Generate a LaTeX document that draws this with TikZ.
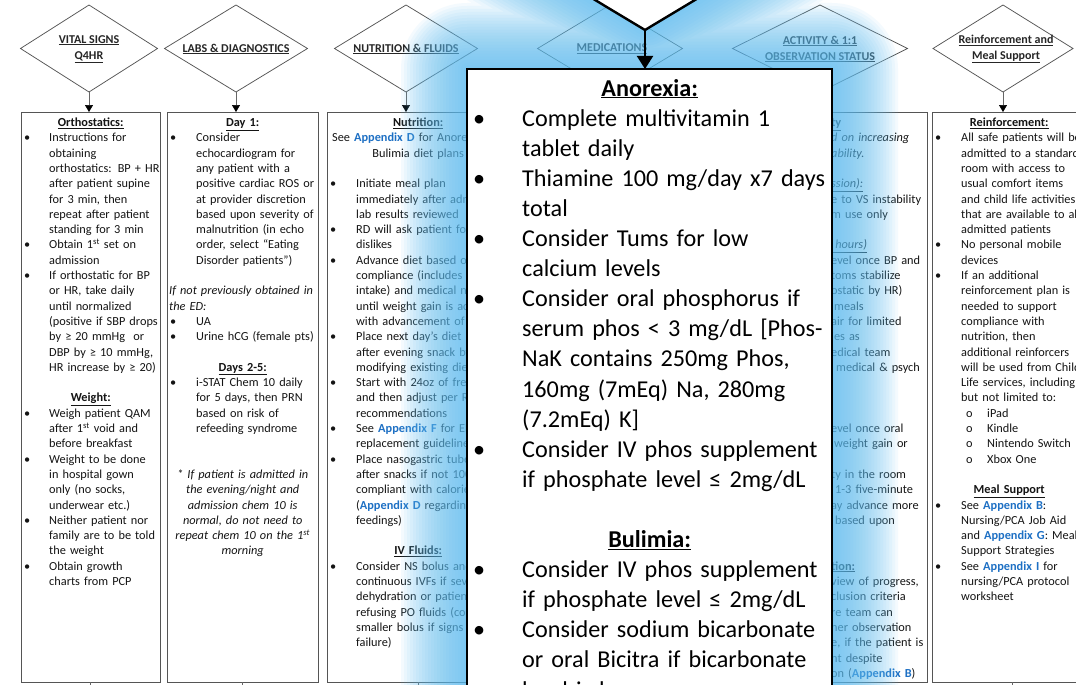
\documentclass[tikz,border=0pt]{standalone}
\usepackage{fontspec}
\setmainfont{Carlito}
\usetikzlibrary{shapes.geometric,arrows.meta}

\definecolor{linkblue}{RGB}{30,112,196}
\definecolor{glowc}{RGB}{95,190,242}
\definecolor{edgegray}{RGB}{85,85,85}

% column layout helpers
\newlength\colcw   % width used for centred lines
\newlength\colind  % hanging indent of bulleted items
\newlength\coloff  % offset of the bullet itself
\newcommand\colhd[1]{\noindent\makebox[\colcw][c]{\bfseries\underline{#1}}\par}
\newcommand\colctr[1]{\noindent\makebox[\colcw][c]{#1}\par}
\newcommand\colbul[1]{\noindent\hangindent=\colind\hangafter=1\makebox[\colind][l]{\hspace*{\coloff}\textbullet}#1\par}
\newcommand\colsub[1]{\noindent\hspace*{32pt}\makebox[21pt][l]{o}#1\par}
\newcommand\colgap{\noindent\mbox{}\par}
\newcommand\lnk[1]{\textbf{\textcolor{linkblue}{#1}}}

\tikzset{
  dia/.style={shape=diamond, draw=edgegray, line width=0.75pt, fill=white, inner sep=0pt, outer sep=0pt, minimum height=87pt},
  bigdia/.style={shape=diamond, draw=black, line width=2.4pt, fill=white, inner sep=0pt, outer sep=0pt},
  diatext/.style={font=\fontsize{12}{16}\selectfont\bfseries, align=center, text=black!85, inner sep=0pt},
  colbox/.style={draw=edgegray, line width=0.9pt, inner sep=0pt, outer sep=0pt, anchor=north west, minimum height=570pt},
  coltext/.style={anchor=base west, inner sep=0pt, text width=250pt, align=left, font=\fontsize{12.3}{15.3}\selectfont, text=black!92},
  feed/.style={draw=black!60, line width=0.7pt, -{Triangle[width=8pt,length=7pt,color=black]}},
  boxtail/.style={draw=black!60, line width=0.7pt},
  callbox/.style={draw=black, line width=2pt, fill=white, inner sep=0pt, outer sep=0pt, anchor=north west},
  calltext/.style={anchor=base west, inner sep=0pt, text width=400pt, align=left, font=\fontsize{24.2}{30.1}\selectfont, text=black},
  bigarrow/.style={draw=black, line width=2pt, -{Triangle[width=16pt,length=13pt,color=black]}},
}

\begin{document}
\begin{tikzpicture}[x=1pt,y=-1pt]
\useasboundingbox (0,0) rectangle (1076,685);
\clip (0,0) rectangle (1076,685);
\fill[white] (0,0) rectangle (1076,685);

% ---------- category diamonds ----------
\node[dia, minimum width=137pt] (d1) at (89,48.5) {};
\node[dia, minimum width=143pt] (d2) at (236,48.5) {};
\node[dia, minimum width=143pt] (d3) at (406,48.5) {};
\node[dia, minimum width=145pt] (d4) at (610,48.5) {};
\node[dia, minimum width=175pt] (d5) at (820,48.5) {};
\node[dia, minimum width=140pt] (d6) at (1003,48.5) {};

\node[diatext] (t1) at (89,49) {\underline{VITAL SIGNS}\\\underline{Q4HR}};
\node[diatext] (t2) at (236,49) {\underline{LABS \& DIAGNOSTICS}};
\node[diatext] (t3) at (406,49) {\underline{NUTRITION \& FLUIDS}};
\node[diatext] (t4) at (612,49) {\underline{MEDICATIONS}};
\node[diatext] (t5) at (820,49) {\underline{ACTIVITY \& 1:1}\\\underline{OBSERVATION STATUS}};
\node[diatext] (t6) at (1006,49) {\underline{Reinforcement and}\\\underline{Meal Support}};

% ---------- column boxes ----------
\node[colbox, minimum width=139pt] (b1) at (21,112) {};
\node[colbox, minimum width=151pt] (b2) at (167,112) {};
\node[colbox, minimum width=182pt] (b3) at (327,112) {};
\node[colbox, minimum width=182pt] (b4) at (516,112) {};
\node[colbox, minimum width=222pt] (b5) at (705,112) {};
\node[colbox, minimum width=160pt] (b6) at (932,112) {};

\foreach \k in {1,...,6}{
  \draw[feed] (d\k.south) -- (d\k.south |- b\k.north);
}
\coordinate (floor) at (0,690);
\foreach \k in {1,...,6}{
  \draw[boxtail] (b\k.south) -- (b\k.south |- floor);
}

% ---------- vital signs ----------
\node[coltext] (c1) at (23,126.5) {\setlength\colcw{135pt}\setlength\colind{26pt}\setlength\coloff{1pt}\colhd{Orthostatics:}%
\colbul{Instructions for\newline obtaining\newline orthostatics: BP + HR\newline after patient supine\newline for 3 min, then\newline repeat after patient\newline standing for 3 min}
\colbul{Obtain 1\textsuperscript{st} set on\newline admission}
\colbul{If orthostatic for BP\newline or HR, take daily\newline until normalized\newline (positive if SBP drops\newline by ≥ 20 mmHg\ \ or\newline DBP by ≥ 10 mmHg,\newline HR increase by ≥ 20)}
\colgap
\colhd{Weight:}
\colbul{Weigh patient QAM\newline after 1\textsuperscript{st} void and\newline before breakfast}
\colbul{Weight to be done\newline in hospital gown\newline only (no socks,\newline underwear etc.)}
\colbul{Neither patient nor\newline family are to be told\newline the weight}
\colbul{Obtain growth\newline charts from PCP}
};

% ---------- labs ----------
\node[coltext] (c2) at (169,126.5) {\setlength\colcw{147pt}\setlength\colind{27pt}\setlength\coloff{1pt}\colhd{Day 1:}%
\colbul{Consider\newline echocardiogram for\newline any patient with a\newline positive cardiac ROS or\newline at provider discretion\newline based upon severity of\newline malnutrition (in echo\newline order, select “Eating\newline Disorder patients”)}
\colgap
\noindent\textit{If not previously obtained in\newline the ED:}\par
\colbul{UA}
\colbul{Urine hCG (female pts)}
\colgap
\colhd{Days 2-5:}
\colbul{i-STAT Chem 10 daily\newline for 5 days, then PRN\newline based on risk of\newline refeeding syndrome}
\colgap
\colgap
\colctr{\itshape * If patient is admitted in}
\colctr{\itshape the evening/night and}
\colctr{\itshape admission chem 10 is}
\colctr{\itshape normal, do not need to}
\colctr{\itshape repeat chem 10 on the 1\textsuperscript{st}}
\colctr{\itshape morning}
};

% ---------- nutrition ----------
\node[coltext] (c3) at (329,126.5) {\setlength\colcw{178pt}\setlength\colind{27pt}\setlength\coloff{1pt}\colhd{Nutrition:}%
\colctr{See \lnk{Appendix D} for Anorexia and}
\colctr{Bulimia diet plans}
\colgap
\colbul{Initiate meal plan\newline immediately after admission and\newline lab results reviewed}
\colbul{RD will ask patient for likes/\newline dislikes}
\colbul{Advance diet based on\newline compliance (includes\newline intake) and medical needs\newline until weight gain is achieved\newline with advancement of}
\colbul{Place next day’s diet order\newline after evening snack by\newline modifying existing diet}
\colbul{Start with 24oz of free water\newline and then adjust per RD\newline recommendations}
\colbul{See \lnk{Appendix F} for Electrolyte\newline replacement guidelines}
\colbul{Place nasogastric tube\newline after snacks if not 100\%\newline compliant with calories\newline (\lnk{Appendix D} regarding NG\newline feedings)}
\colgap
\colhd{IV Fluids:}
\colbul{Consider NS bolus and\newline continuous IVFs if severe\newline dehydration or patient\newline refusing PO fluids (consider\newline smaller bolus if signs of heart\newline failure)}
};

% ---------- activity (right-hand part of the column) ----------
\node[coltext] (c5) at (831,126.5) {{\bfseries\underline{ty}}\newline
\textit{d on increasing}\newline
\textit{ability.}\newline
\mbox{}\newline
\textit{\underline{ssion):}}\newline
e to VS instability\newline
m use only\newline
\mbox{}\newline
\textit{\underline{\ hours)}}\newline
evel once BP and\newline
toms stabilize\newline
ostatic by HR)\newline
\hspace*{3pt}meals\newline
air for limited\newline
ies as\newline
edical team\newline
\hspace*{5pt}medical \& psych\newline
\mbox{}\newline
\mbox{}\newline
\mbox{}\newline
evel once oral\newline
\hspace*{3pt}weight gain or\newline
\mbox{}\newline
ty in the room\newline
\hspace*{4pt}1-3 five-minute\newline
ay advance more\newline
\hspace*{4pt}based upon\newline
\mbox{}\newline
\mbox{}\newline
{\bfseries\underline{tion:}}\newline
view of progress,\newline
clusion criteria\newline
re team can\newline
her observation\newline
e, if the patient is\newline
nt despite\newline
on (\lnk{Appendix B})};

% ---------- reinforcement ----------
\node[coltext] (c6) at (934,126.5) {\setlength\colcw{150pt}\setlength\colind{27pt}\setlength\coloff{1pt}\colhd{Reinforcement:}%
\colbul{All safe patients will be\newline admitted to a standard\newline room with access to\newline usual comfort items\newline and child life activities\newline that are available to all\newline admitted patients}
\colbul{No personal mobile\newline devices}
\colbul{If an additional\newline reinforcement plan is\newline needed to support\newline compliance with\newline nutrition, then\newline additional reinforcers\newline will be used from Child\newline Life services, including\newline but not limited to:}
\colsub{iPad}
\colsub{Kindle}
\colsub{Nintendo Switch}
\colsub{Xbox One}
\colgap
\colhd{Meal Support}
\colbul{See \lnk{Appendix B}:\newline Nursing/PCA Job Aid\newline and \lnk{Appendix G}: Meal\newline Support Strategies}
\colbul{See \lnk{Appendix I} for\newline nursing/PCA protocol\newline worksheet}
};

% ---------- soft blue halo around the enlarged medications panel ----------
\foreach \gd in {0,3,...,66}{
  \fill[glowc, fill opacity=0.065, rounded corners=\gd pt]
    ({467-\gd},{720+\gd}) -- ({467-\gd},{69-\gd}) -- ({832+\gd},{69-\gd}) -- ({832+\gd},{720+\gd}) -- cycle
    ({457-1.94*\gd},-83) -- (645,{-196-1.167*\gd}) -- ({833+1.94*\gd},-83) -- (645,{30+1.167*\gd}) -- cycle;
}

% ---------- enlarged medications diamond and panel ----------
\node[bigdia, minimum width=376pt, minimum height=226pt] (bigd) at (645,-83) {};
\node[callbox, minimum width=365pt, minimum height=660pt] (call) at (467,69) {};
\draw[bigarrow] (bigd.south) -- (bigd.south |- call.north);

\node[calltext] (meds) at (467,96) {\setlength\colcw{365pt}\setlength\colind{55pt}\setlength\coloff{6pt}\colhd{Anorexia:}%
\colbul{Complete multivitamin 1\newline tablet daily}
\colbul{Thiamine 100 mg/day x7 days\newline total}
\colbul{Consider Tums for low\newline calcium levels}
\colbul{Consider oral phosphorus if\newline serum phos < 3 mg/dL [Phos-\newline NaK contains 250mg Phos,\newline 160mg (7mEq) Na, 280mg\newline (7.2mEq) K]}
\colbul{Consider IV phos supplement\newline if phosphate level ≤ 2mg/dL}
\colgap
\colhd{Bulimia:}
\colbul{Consider IV phos supplement\newline if phosphate level ≤ 2mg/dL}
\colbul{Consider sodium bicarbonate\newline or oral Bicitra if bicarbonate\newline level is low}
};
\end{tikzpicture}
\end{document}
